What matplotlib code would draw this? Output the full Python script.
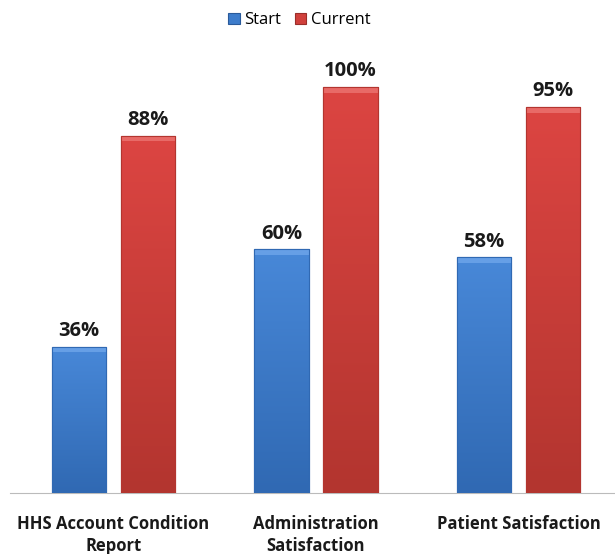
import matplotlib
matplotlib.use("Agg")
import matplotlib.pyplot as plt
import numpy as np
from matplotlib.colors import LinearSegmentedColormap

categories = ["HHS Account Condition\nReport", "Administration\nSatisfaction", "Patient Satisfaction"]
start_vals = [36, 60, 58]
current_vals = [88, 100, 95]
series_names = ["Start", "Current"]

plt.rcParams['font.family'] = ['Open Sans', 'DejaVu Sans']

fig = plt.figure(figsize=(6.15, 5.54), dpi=100)
ax = fig.add_axes([10/615, 61/554, 605/615, 450/554])

x = np.arange(len(categories))
w = 0.27
off = 0.17

blue = "#3D7CCB"
red = "#D0403C"
b1 = ax.bar(x - off, start_vals, w, color=blue, label=series_names[0], zorder=2,
            edgecolor="#2A5A9A", linewidth=0.8)
b2 = ax.bar(x + off, current_vals, w, color=red, label=series_names[1], zorder=2,
            edgecolor="#9A2E2A", linewidth=0.8)

def shade(bars, top, bottom, bevel):
    cmap = LinearSegmentedColormap.from_list("g", [bottom, top])
    grad = np.linspace(0, 1, 64).reshape(-1, 1)
    for b in bars:
        x0, y0 = b.get_x(), b.get_y()
        bw, bh = b.get_width(), b.get_height()
        im = ax.imshow(np.hstack([grad]*2), cmap=cmap, aspect='auto', origin='lower',
                       extent=[x0, x0 + bw, y0, y0 + bh], zorder=3, interpolation='bilinear')
        im.set_clip_path(b)
        ax.add_patch(plt.Rectangle((x0, y0 + bh - 1.4), bw, 1.4, color=bevel, alpha=0.8, zorder=4, lw=0))
        ax.add_patch(plt.Rectangle((x0, y0), bw, bh, fill=False, ec=bottom, lw=0.8, zorder=5))

shade(b1, "#4888D8", "#3069B3", "#6FA6EA")
shade(b2, "#DC4542", "#B3352F", "#EC7471")

for bars, vals in ((b1, start_vals), (b2, current_vals)):
    for b, v in zip(bars, vals):
        ax.text(b.get_x() + b.get_width()/2, v + 1.4, f"{v}%", ha='center', va='bottom',
                fontsize=14.5, fontweight='bold', color='#1a1a1a')

ax.set_xlim(-0.511, 2.477)
ax.set_ylim(0, 110.8)
ax.set_xticks(x)
ax.set_xticklabels(categories, fontsize=12, fontweight='bold', color='#1a1a1a', linespacing=1.25)
ax.tick_params(axis='x', length=0, pad=16)
ax.set_yticks([])
for s in ['top', 'right', 'left']:
    ax.spines[s].set_visible(False)
ax.spines['bottom'].set_color('#BBBBBB')

leg = fig.legend(handles=[b1, b2], labels=series_names, loc='upper center',
                 bbox_to_anchor=(0.487, 1.005), ncol=2, frameon=False, fontsize=12,
                 handlelength=0.7, handleheight=0.7, columnspacing=0.8, handletextpad=0.3)

fig.savefig("out.png", dpi=100)
